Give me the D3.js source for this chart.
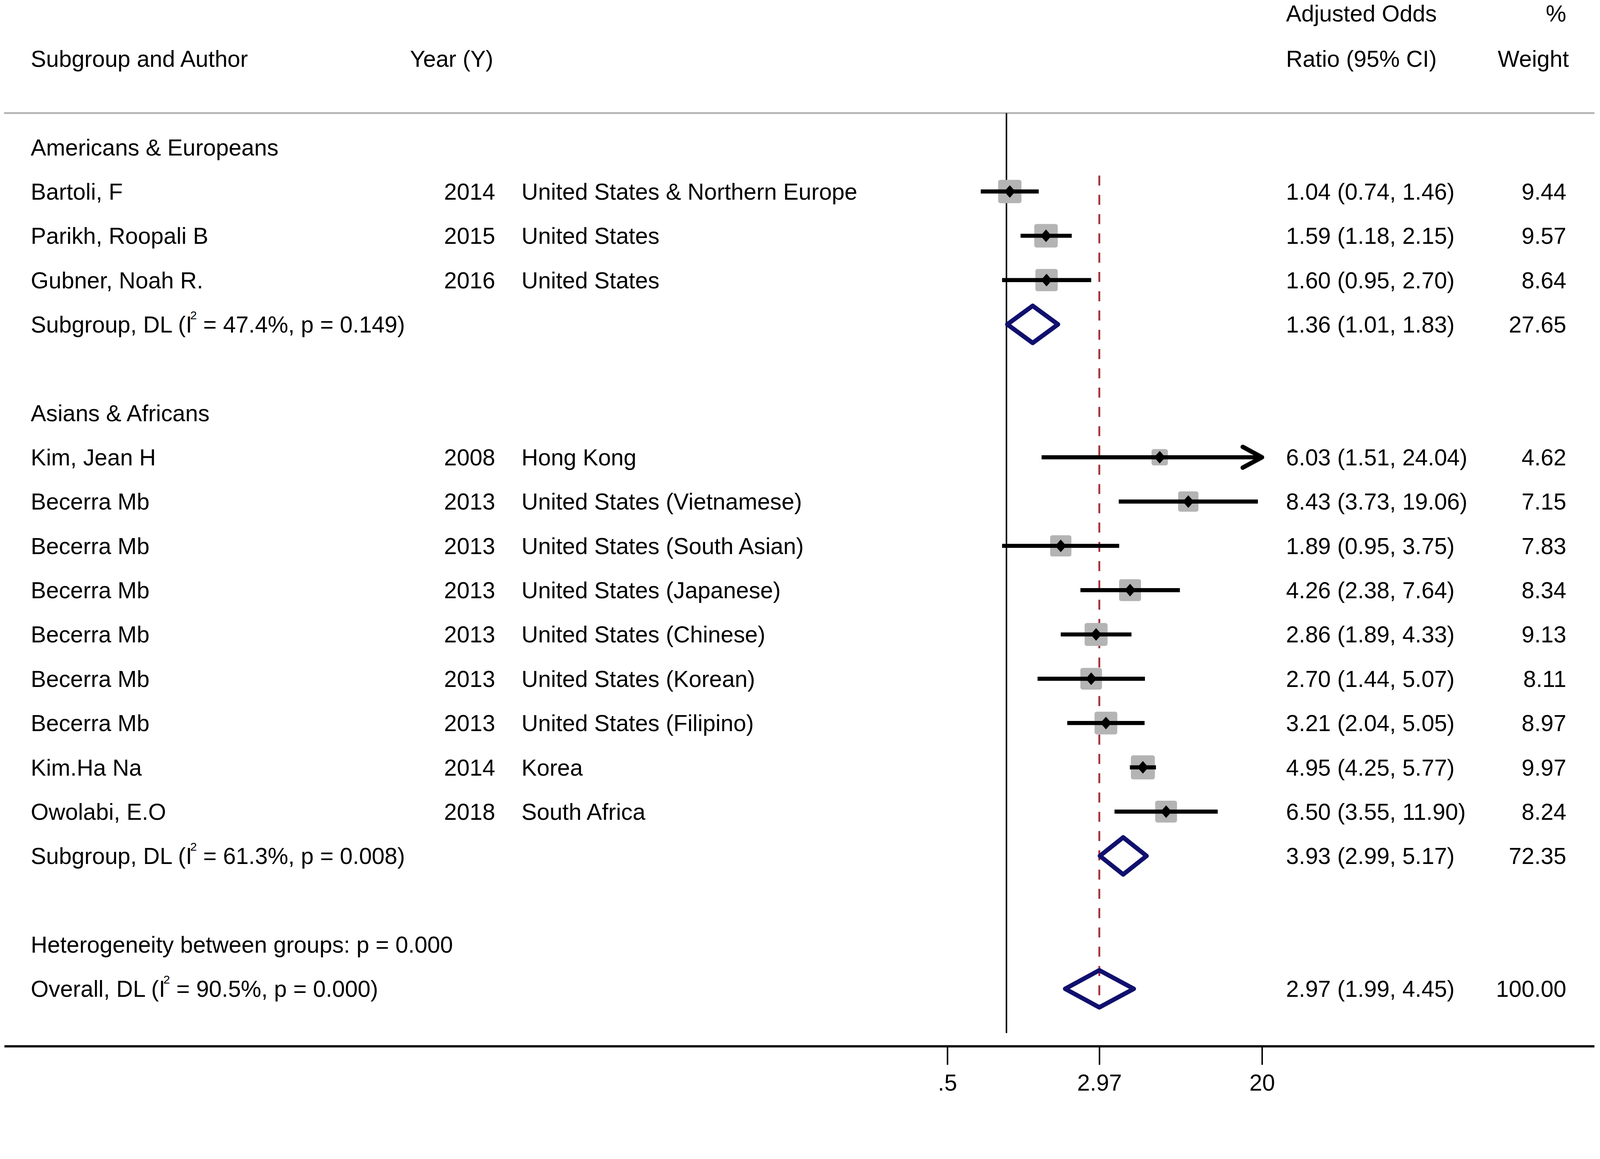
<!DOCTYPE html>
<html>
<head>
<meta charset="utf-8">
<script src="https://cdn.jsdelivr.net/npm/d3@7"></script>
<style>
  html, body { margin: 0; padding: 0; background: #fff; overflow: hidden; }
  svg { display: block; width: 100vw; height: 100vh; }
  text { font-family: "Liberation Sans", Arial, sans-serif; fill: #000; }
</style>
</head>
<body>
<svg id="chart"></svg>
<script>
// study level data
const groupNames = ["Americans & Europeans", "Asians & Africans"];
const studyGroup = [0, 0, 0, 1, 1, 1, 1, 1, 1, 1, 1, 1];
const studyAuthors = ["Bartoli, F", "Parikh, Roopali B", "Gubner, Noah R.",
    "Kim, Jean H", "Becerra Mb", "Becerra Mb", "Becerra Mb", "Becerra Mb",
    "Becerra Mb", "Becerra Mb", "Kim.Ha Na", "Owolabi, E.O"];
const studyYears = [2014, 2015, 2016, 2008, 2013, 2013, 2013, 2013, 2013, 2013, 2014, 2018];
const studyCountries = ["United States & Northern Europe", "United States", "United States",
    "Hong Kong", "United States (Vietnamese)", "United States (South Asian)",
    "United States (Japanese)", "United States (Chinese)", "United States (Korean)",
    "United States (Filipino)", "Korea", "South Africa"];
const studyOR = [1.04, 1.59, 1.60, 6.03, 8.43, 1.89, 4.26, 2.86, 2.70, 3.21, 4.95, 6.50];
const studyLower = [0.74, 1.18, 0.95, 1.51, 3.73, 0.95, 2.38, 1.89, 1.44, 2.04, 4.25, 3.55];
const studyUpper = [1.46, 2.15, 2.70, 24.04, 19.06, 3.75, 7.64, 4.33, 5.07, 5.05, 5.77, 11.90];
const studyWeight = [9.44, 9.57, 8.64, 4.62, 7.15, 7.83, 8.34, 9.13, 8.11, 8.97, 9.97, 8.24];

// pooled estimates
const subgroupOR = [1.36, 3.93];
const subgroupLower = [1.01, 2.99];
const subgroupUpper = [1.83, 5.17];
const subgroupWeight = [27.65, 72.35];
const subgroupI2 = ["47.4%", "61.3%"];
const subgroupP = ["0.149", "0.008"];
const overallEst = [2.97, 1.99, 4.45, 100.00];
const overallI2 = "90.5%";
const overallP = "0.000";
const betweenP = "0.000";

const tickValues = [0.5, 2.97, 20];
const tickLabels = [".5", "2.97", "20"];

const width = 4317;
const height = 2966;
const fs = 62;

const svg = d3.select("#chart")
    .attr("viewBox", `0 0 ${width} ${height}`)
    .attr("preserveAspectRatio", "xMidYMin meet");

// build the row list
let rows = [];
groupNames.forEach((g, gi) => {
    rows.push({ type: "group", label: g });
    studyAuthors.forEach((a, i) => {
        if (studyGroup[i] === gi) rows.push({ type: "study", i: i });
    });
    rows.push({ type: "subgroup", i: gi });
    rows.push({ type: "blank" });
});
rows.push({ type: "between" });
rows.push({ type: "overall" });
rows.forEach((r, k) => r.row = k);

const x = d3.scaleLog().domain([0.5, 20]).range([2556, 3405]);
const y = d3.scaleLinear().domain([0, rows.length - 1]).range([397, 2667]);
const fmt = d3.format(".2f");

const colAuthor = 83, colYear = 1336, colCountry = 1407, colCI = 3470, colWeight = 4226;

// header
const head = svg.append("g").style("font-size", fs + "px");
head.append("text").attr("x", colAuthor).attr("y", 180).text("Subgroup and Author");
head.append("text").attr("x", 1106).attr("y", 180).text("Year (Y)");
head.append("text").attr("x", colCI).attr("y", 58).text("Adjusted Odds");
head.append("text").attr("x", colCI).attr("y", 180).text("Ratio (95% CI)");
head.append("text").attr("x", colWeight).attr("y", 58).attr("text-anchor", "end").text("%");
head.append("text").attr("x", 4233).attr("y", 180).attr("text-anchor", "end").text("Weight");

// separator line under the header
svg.append("line").attr("x1", 11).attr("x2", 4302).attr("y1", 305).attr("y2", 305)
    .attr("stroke", "#b4b4b4").attr("stroke-width", 5);

// null line at 1
svg.append("line").attr("x1", x(1)).attr("x2", x(1))
    .attr("y1", 305).attr("y2", y(rows.length))
    .attr("stroke", "#000").attr("stroke-width", 4);

// dashed overall line
svg.append("line").attr("x1", x(overallEst[0])).attr("x2", x(overallEst[0]))
    .attr("y1", y(1) - 43).attr("y2", y(rows.length - 1) + 55)
    .attr("stroke", "#a3303a").attr("stroke-width", 5)
    .attr("stroke-dasharray", "27 25");

// axis
const axis = d3.axisBottom(x).tickValues(tickValues)
    .tickFormat((d, i) => tickLabels[i]).tickSize(50).tickPadding(26);
const ax = svg.append("g").attr("transform", "translate(0,2822)").call(axis);
ax.select(".domain").remove();
ax.selectAll(".tick line").attr("stroke", "#000").attr("stroke-width", 4);
ax.selectAll(".tick text").style("font-size", fs + "px")
    .style("font-family", "'Liberation Sans', Arial, sans-serif").attr("fill", "#000");
svg.append("line").attr("x1", 12).attr("x2", 4302).attr("y1", 2822).attr("y2", 2822)
    .attr("stroke", "#000").attr("stroke-width", 6);

const body = svg.append("g").style("font-size", fs + "px");

function addI2(t, prefix, i2, p) {
    t.append("tspan").text(prefix + "(I");
    t.append("tspan").attr("dy", -36).attr("dx", -5).style("font-size", "32px").text("2");
    t.append("tspan").attr("dy", 36).text(" = " + i2 + ", p = " + p + ")");
}

function diamond(g, cy, est, lo, hi) {
    const h = 50;
    g.append("path")
        .attr("d", `M${x(lo)},${cy} L${x(est)},${cy - h} L${x(hi)},${cy} L${x(est)},${cy + h} Z`)
        .attr("fill", "none").attr("stroke", "#10106e").attr("stroke-width", 12)
        .attr("stroke-linejoin", "round");
}

rows.forEach(r => {
    const cy = y(r.row);
    const by = cy + 22;
    if (r.type === "group") {
        body.append("text").attr("x", colAuthor).attr("y", by).text(r.label);
    } else if (r.type === "study") {
        const i = r.i;
        body.append("text").attr("x", colAuthor).attr("y", by).text(studyAuthors[i]);
        body.append("text").attr("x", colYear).attr("y", by).attr("text-anchor", "end").text(studyYears[i]);
        body.append("text").attr("x", colCountry).attr("y", by).text(studyCountries[i]);
        body.append("text").attr("x", colCI).attr("y", by)
            .text(`${fmt(studyOR[i])} (${fmt(studyLower[i])}, ${fmt(studyUpper[i])})`);
        body.append("text").attr("x", colWeight).attr("y", by).attr("text-anchor", "end").text(fmt(studyWeight[i]));

        const side = 20.5 * Math.sqrt(studyWeight[i]);
        body.append("rect")
            .attr("x", x(studyOR[i]) - side / 2).attr("y", cy - side / 2)
            .attr("width", side).attr("height", side).attr("rx", 6)
            .attr("fill", "#b4b4b4");
        const hiClip = Math.min(studyUpper[i], x.domain()[1]);
        body.append("line")
            .attr("x1", x(studyLower[i])).attr("x2", x(hiClip))
            .attr("y1", cy).attr("y2", cy)
            .attr("stroke", "#000").attr("stroke-width", 11);
        if (studyUpper[i] > x.domain()[1]) {
            const tip = x(hiClip);
            body.append("path")
                .attr("d", `M${tip - 52},${cy - 28} L${tip},${cy} L${tip - 52},${cy + 28}`)
                .attr("fill", "none").attr("stroke", "#000").attr("stroke-width", 12)
                .attr("stroke-linecap", "round").attr("stroke-linejoin", "round");
        }
        const px = x(studyOR[i]);
        body.append("path")
            .attr("d", `M${px - 15},${cy} L${px},${cy - 17} L${px + 15},${cy} L${px},${cy + 17} Z`)
            .attr("fill", "#000");
    } else if (r.type === "subgroup") {
        const i = r.i;
        addI2(body.append("text").attr("x", colAuthor).attr("y", by), "Subgroup, DL ", subgroupI2[i], subgroupP[i]);
        body.append("text").attr("x", colCI).attr("y", by)
            .text(`${fmt(subgroupOR[i])} (${fmt(subgroupLower[i])}, ${fmt(subgroupUpper[i])})`);
        body.append("text").attr("x", colWeight).attr("y", by).attr("text-anchor", "end").text(fmt(subgroupWeight[i]));
        diamond(body, cy, subgroupOR[i], subgroupLower[i], subgroupUpper[i]);
    } else if (r.type === "between") {
        body.append("text").attr("x", colAuthor).attr("y", by)
            .text("Heterogeneity between groups: p = " + betweenP);
    } else if (r.type === "overall") {
        addI2(body.append("text").attr("x", colAuthor).attr("y", by), "Overall, DL ", overallI2, overallP);
        body.append("text").attr("x", colCI).attr("y", by)
            .text(`${fmt(overallEst[0])} (${fmt(overallEst[1])}, ${fmt(overallEst[2])})`);
        body.append("text").attr("x", colWeight).attr("y", by).attr("text-anchor", "end").text(fmt(overallEst[3]));
        diamond(body, cy, overallEst[0], overallEst[1], overallEst[2]);
    }
});
</script>
</body>
</html>
